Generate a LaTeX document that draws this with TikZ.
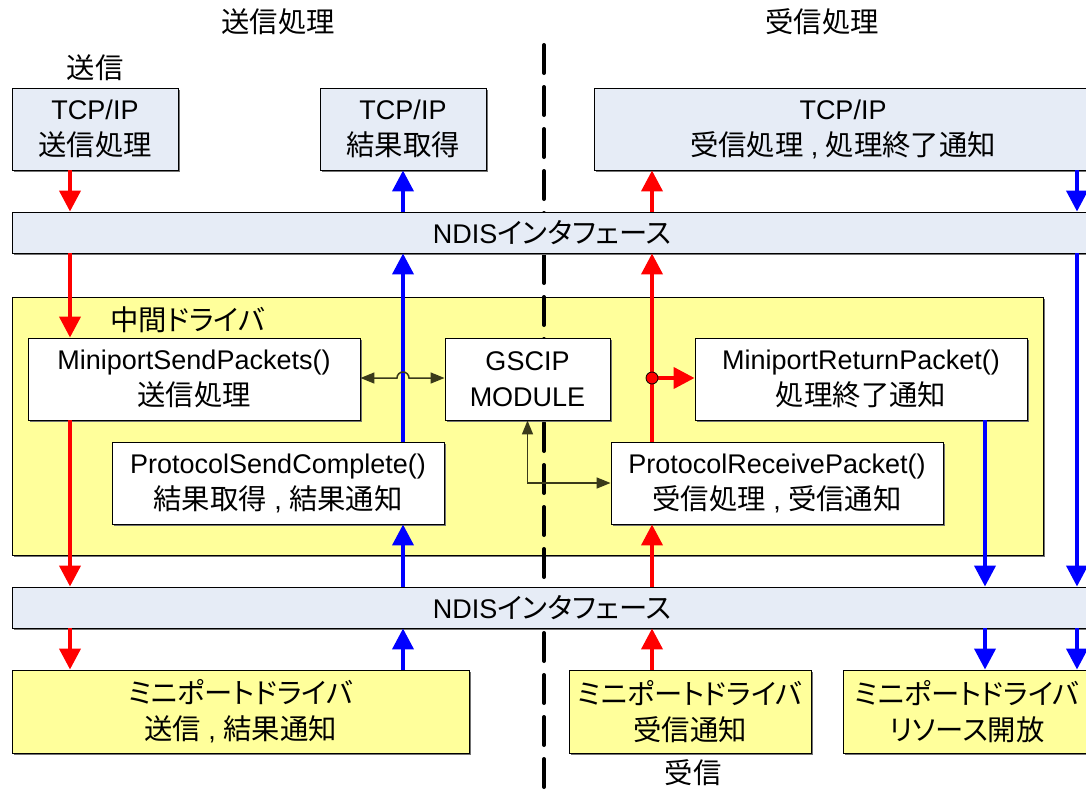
\documentclass[tikz,border=0pt]{standalone}
\usepackage{fontspec}
\setmainfont{Liberation Sans}
\newfontfamily\jp[Scale=1.05,RawFeature=+palt]{Noto Sans CJK JP}
\usetikzlibrary{arrows.meta,shadows}
\definecolor{bluebg}{HTML}{E6ECF6}
\definecolor{yellowbg}{HTML}{FFFF9B}
\definecolor{olivel}{HTML}{3A3A1A}
\tikzset{
  lbl/.style={font=\fontsize{27}{36}\selectfont, inner sep=0pt, align=center},
  boxbase/.style={lbl, draw=black, line width=0.9pt, drop shadow={shadow xshift=1.6pt, shadow yshift=-1.6pt, fill=black!55, opacity=1}},
  bluebox/.style={boxbase, fill=bluebg},
  whitebox/.style={boxbase, fill=white},
  yellowbox/.style={boxbase, fill=yellowbg},
  redarr/.style={draw=red, line width=4pt, -{Triangle[width=21pt,length=21pt]}},
  bluearr/.style={draw=blue, line width=4pt, -{Triangle[width=21pt,length=21pt]}},
  thinarr/.style={draw=olivel, line width=1.5pt, {Triangle[width=11pt,length=14pt]}-{Triangle[width=11pt,length=14pt]}},
  divider/.style={draw=black, line width=4pt, line cap=round, dash pattern=on 28pt off 14pt}
}
\begin{document}
\begin{tikzpicture}[x=1pt,y=-1pt]
\useasboundingbox (0,0) rectangle (1086,790);
% column coordinates
\coordinate (cA) at (70,0);
\coordinate (cB) at (403,0);
\coordinate (cC) at (652,0);
\coordinate (cD) at (985,0);
\coordinate (cE) at (1077,0);
\coordinate (rowJ) at (0,378);

% middle driver area
\node[yellowbox, minimum width=1031pt, minimum height=258pt] (mid) at (527.5,426) {};
\node[lbl, anchor=west] (midlbl) at (110,320) {\jp 中間ドライバ};

% divider
\coordinate (dv1) at (544,45);
\coordinate (dv2) at (544,795);
\draw[divider] (dv1) -- (dv2);

% titles
\node[lbl] (t1) at (278,22) {\jp 送信処理};
\node[lbl] (t2) at (822,22) {\jp 受信処理};
\node[lbl] (snd) at (95,68) {\jp 送信};
\node[lbl] (rcv) at (693,773) {\jp 受信};

% top boxes
\node[bluebox, minimum width=166pt, minimum height=82pt] (tcp1) at (95,129) {TCP/IP\\{\jp 送信処理}};
\node[bluebox, minimum width=166pt, minimum height=82pt] (tcp2) at (403,129) {TCP/IP\\{\jp 結果取得}};
\node[bluebox, minimum width=498pt, minimum height=82pt] (tcp3) at (843,129) {TCP/IP\\{\jp 受信処理} , {\jp 処理終了通知}};

% NDIS bars
\node[bluebox, minimum width=1080pt, minimum height=41pt] (ndis1) at (552,232.5) {NDIS{\jp インタフェース}};
\node[bluebox, minimum width=1080pt, minimum height=41pt] (ndis2) at (552,607.5) {NDIS{\jp インタフェース}};

% inner boxes
\node[whitebox, minimum width=332pt, minimum height=82pt] (msp) at (194,379) {MiniportSendPackets()\\{\jp 送信処理}};
\node[whitebox, minimum width=165pt, minimum height=82pt] (gscip) at (527.5,379) {GSCIP\\MODULE};
\node[whitebox, minimum width=332pt, minimum height=82pt] (mrp) at (861,379) {MiniportReturnPacket()\\{\jp 処理終了通知}};
\node[whitebox, minimum width=332pt, minimum height=82pt] (psc) at (278,483) {ProtocolSendComplete()\\{\jp 結果取得} , {\jp 結果通知}};
\node[whitebox, minimum width=332pt, minimum height=82pt] (prp) at (777,483) {ProtocolReceivePacket()\\{\jp 受信処理} , {\jp 受信通知}};

% bottom boxes
\node[yellowbox, minimum width=457pt, minimum height=83pt] (mini1) at (240.5,711.5) {{\jp ミニポートドライバ}\\{\jp 送信} , {\jp 結果通知}};
\node[yellowbox, minimum width=242pt, minimum height=83pt] (mini2) at (690,711.5) {{\jp ミニポートドライバ}\\{\jp 受信通知}};
\node[yellowbox, minimum width=248pt, minimum height=83pt] (mini3) at (967,711.5) {{\jp ミニポートドライバ}\\{\jp リソース開放}};

% red column A (send path)
\draw[redarr] (tcp1.south -| cA) -- (ndis1.north -| cA);
\draw[redarr] (ndis1.south -| cA) -- (msp.north -| cA);
\draw[redarr] (msp.south -| cA) -- (ndis2.north -| cA);
\draw[redarr] (ndis2.south -| cA) -- (mini1.north -| cA);

% blue column B (send complete)
\draw[bluearr] (ndis1.north -| cB) -- (tcp2.south -| cB);
\draw[bluearr] (psc.north -| cB) -- (ndis1.south -| cB);
\draw[bluearr] (ndis2.north -| cB) -- (psc.south -| cB);
\draw[bluearr] (mini1.north -| cB) -- (ndis2.south -| cB);

% red column C (receive path)
\draw[redarr] (ndis1.north -| cC) -- (tcp3.south -| cC);
\draw[redarr] (prp.north -| cC) -- (ndis1.south -| cC);
\draw[redarr] (ndis2.north -| cC) -- (prp.south -| cC);
\draw[redarr] (mini2.north -| cC) -- (ndis2.south -| cC);
\coordinate (dot) at (cC |- rowJ);
\draw[redarr] (dot) -- (mrp.west |- rowJ);
\filldraw[fill=red, draw=black, line width=0.8pt] (dot) circle (6pt);

% blue column D (return packet)
\draw[bluearr] (mrp.south -| cD) -- (ndis2.north -| cD);
\draw[bluearr] (ndis2.south -| cD) -- (mini3.north -| cD);

% blue column E
\draw[bluearr] (tcp3.south -| cE) -- (ndis1.north -| cE);
\draw[bluearr] (ndis1.south -| cE) -- (ndis2.north -| cE);
\draw[bluearr] (ndis2.south -| cE) -- (mini3.north -| cE);

% thin black connectors
\coordinate (jmpL) at (397,378);
\draw[thinarr] (msp.east |- rowJ) -- (jmpL) arc[start angle=180, end angle=0, radius=6pt] -- (gscip.west |- rowJ);
\draw[thinarr] (gscip.south) |- (prp.west);
\end{tikzpicture}
\end{document}
